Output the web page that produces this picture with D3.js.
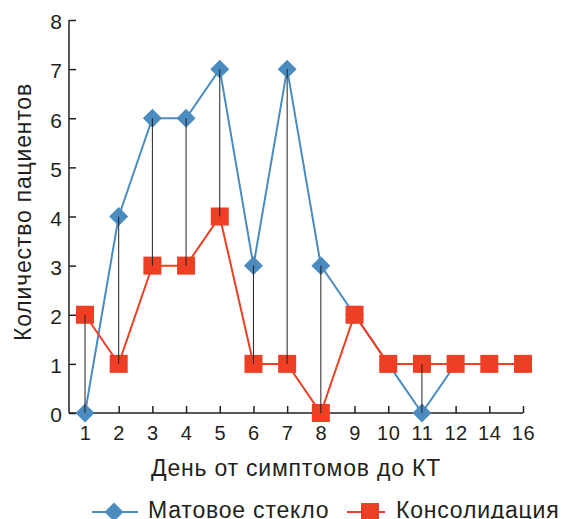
<!DOCTYPE html>
<html>
  <head lang="ru">
    <meta charset="utf-8">
    <title>Матовое стекло и консолидация</title>
    <script type="text/javascript" src="https://cdn.jsdelivr.net/npm/d3@7"></script>
    <style>
      body { margin: 0; background: #fff; }
      text { font-family: "Liberation Sans", Arial, sans-serif; fill: #231f20; }
      .title { font-size: 23px; letter-spacing: 0.8px; }
    </style>
  </head>
  <body>
    <script type="text/javascript">

      // days from symptoms to CT
      var days = ["1", "2", "3", "4", "5", "6", "7", "8", "9", "10", "11", "12", "14", "16"];
      // ground glass opacity
      var groundGlass = [0, 4, 6, 6, 7, 3, 7, 3, 2, 1, 0, 1, 1, 1];
      // consolidation
      var consolidation = [2, 1, 3, 3, 4, 1, 1, 0, 2, 1, 1, 1, 1, 1];
      var yTicks = [0, 1, 2, 3, 4, 5, 6, 7, 8];

      var blue = "#4a8cc0";
      var red = "#ee3f24";

      var svg = d3.select("body")
                  .append("svg")
                  .attr("width", 566)
                  .attr("height", 519);

      var x_scale = d3.scalePoint()
          .domain(days)
          .range([85, 523]);

      var y_scale = d3.scaleLinear()
          .domain([0, 8])
          .range([413, 20]);

      // y axis, ticks pointing inward
      var yAxis = svg.append("g")
          .attr("transform", "translate(69,0)")
          .call(d3.axisRight(y_scale).tickValues(yTicks).tickSize(7).tickSizeOuter(0));
      yAxis.select(".domain").remove();
      yAxis.selectAll("line").attr("stroke", "#231f20").attr("stroke-width", 1.5);
      yAxis.selectAll("text")
          .attr("x", -7)
          .attr("dy", "0.42em")
          .attr("text-anchor", "end")
          .style("font-size", "21px");
      svg.append("line")
          .attr("x1", 69).attr("x2", 69)
          .attr("y1", y_scale(8)).attr("y2", y_scale(0))
          .attr("stroke", "#231f20").attr("stroke-width", 1.5);

      // x axis, ticks pointing inward
      var xAxis = svg.append("g")
          .attr("transform", "translate(0," + y_scale(0) + ")")
          .call(d3.axisTop(x_scale).tickSize(7).tickSizeOuter(0));
      xAxis.select(".domain").remove();
      xAxis.selectAll("line").attr("stroke", "#231f20").attr("stroke-width", 1.5);
      xAxis.selectAll("text")
          .attr("y", 27)
          .style("font-size", "20px")
          .style("letter-spacing", "0.6px");
      svg.append("line")
          .attr("x1", 69).attr("x2", x_scale("16"))
          .attr("y1", y_scale(0)).attr("y2", y_scale(0))
          .attr("stroke", "#231f20").attr("stroke-width", 1.5);

      // axis titles
      svg.append("text")
          .attr("class", "title")
          .attr("x", 296)
          .attr("y", 476)
          .attr("text-anchor", "middle")
          .text("День от симптомов до КТ");

      svg.append("text")
          .attr("class", "title")
          .attr("transform", "translate(31,212) rotate(-90)")
          .attr("text-anchor", "middle")
          .text("Количество пациентов");

      var line = function(values) {
        return d3.line()
            .x(function(d, i) { return x_scale(days[i]); })
            .y(function(d) { return y_scale(d); })(values);
      };

      svg.append("path")
          .attr("d", line(groundGlass))
          .attr("fill", "none")
          .attr("stroke", blue)
          .attr("stroke-width", 2);

      svg.append("path")
          .attr("d", line(consolidation))
          .attr("fill", "none")
          .attr("stroke", red)
          .attr("stroke-width", 2);

      var diamond = d3.symbol().type(d3.symbolSquare).size(180);

      svg.selectAll(".gg")
          .data(groundGlass)
          .enter()
          .append("path")
          .attr("class", "gg")
          .attr("d", diamond)
          .attr("transform", function(d, i) {
            return "translate(" + x_scale(days[i]) + "," + y_scale(d) + ") rotate(45)";
          })
          .attr("fill", blue);

      svg.selectAll(".cons")
          .data(consolidation)
          .enter()
          .append("rect")
          .attr("class", "cons")
          .attr("x", function(d, i) { return x_scale(days[i]) - 9; })
          .attr("y", function(d) { return y_scale(d) - 9; })
          .attr("width", 18)
          .attr("height", 18)
          .attr("fill", red);

      // high-low lines between the two series
      svg.selectAll(".hilo")
          .data(days)
          .enter()
          .append("line")
          .attr("class", "hilo")
          .attr("x1", function(d) { return x_scale(d); })
          .attr("x2", function(d) { return x_scale(d); })
          .attr("y1", function(d, i) { return y_scale(groundGlass[i]); })
          .attr("y2", function(d, i) { return y_scale(consolidation[i]); })
          .attr("stroke", "#231f20")
          .attr("stroke-width", 1);

      // legend
      var legend = svg.append("g").attr("transform", "translate(0,512)");
      legend.append("line")
          .attr("x1", 92).attr("x2", 138)
          .attr("stroke", blue).attr("stroke-width", 2);
      legend.append("path")
          .attr("d", diamond)
          .attr("transform", "translate(114,0) rotate(45)")
          .attr("fill", blue);
      legend.append("text")
          .attr("class", "title")
          .attr("x", 148).attr("y", 6)
          .text("Матовое стекло");

      legend.append("line")
          .attr("x1", 347).attr("x2", 385)
          .attr("stroke", red).attr("stroke-width", 2);
      legend.append("rect")
          .attr("x", 361).attr("y", -9)
          .attr("width", 18).attr("height", 18)
          .attr("fill", red);
      legend.append("text")
          .attr("class", "title")
          .attr("x", 396).attr("y", 6)
          .text("Консолидация");
    </script>
  </body>
</html>
